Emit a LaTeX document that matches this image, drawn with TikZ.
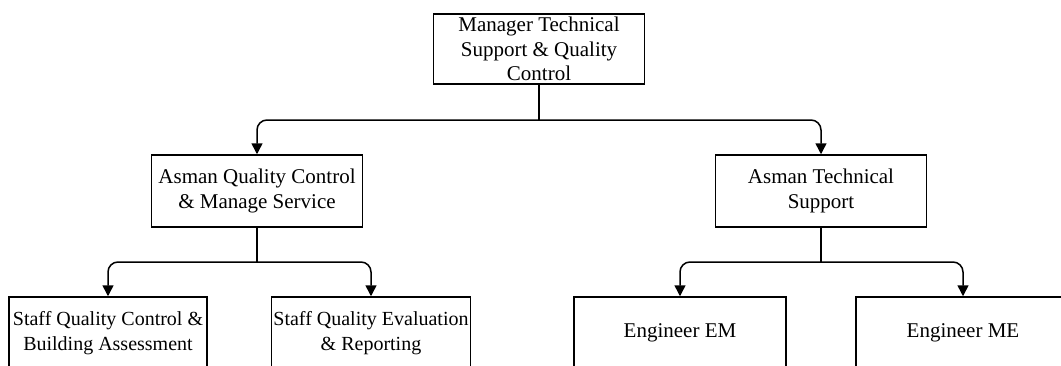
\documentclass[tikz,border=0pt]{standalone}
\usepackage{fontspec}
\setmainfont{Liberation Serif}
\usetikzlibrary{arrows.meta}
\tikzset{
    orgbox/.style={draw, line width=1.5pt, align=center, inner sep=2pt,
        minimum height=72pt, font=\fontsize{21}{24.5}\selectfont},
    staffbox/.style={orgbox, minimum width=198pt, font=\fontsize{20}{24.5}\selectfont},
    link/.style={line width=1.5pt, rounded corners=10pt},
    arr/.style={link, -{Triangle[length=11pt,width=11pt]}}
}

\begin{document}
\begin{tikzpicture}[x=1pt, y=-1pt]

    % Fix the visible area
    \clip (0,0) rectangle (1061,365);
    \fill[white] (0,0) rectangle (1061,365);

    % Define the levels
    \def\topy{49}
    \def\midy{191}
    \def\lowy{333}

    % Draw the boxes
    \node[orgbox, minimum width=211pt, minimum height=70pt] (mgr) at (539,\topy)
        {Manager Technical\\Support \& Quality\\Control};
    \node[orgbox, minimum width=211pt] (qc) at (257,\midy)
        {Asman Quality Control\\\& Manage Service};
    \node[orgbox, minimum width=211pt] (ts) at (821,\midy)
        {Asman Technical\\Support};
    \node[staffbox] (sqc) at (108,\lowy)
        {Staff Quality Control \&\\Building Assessment};
    \node[staffbox] (sqe) at (371,\lowy)
        {Staff Quality Evaluation\\\& Reporting};
    \node[orgbox, minimum width=212pt] (eem) at (680,\lowy)
        {Engineer EM};
    \node[orgbox, minimum width=214pt] (eme) at (963,\lowy)
        {Engineer ME};

    % Junction points
    \coordinate (j1) at (mgr.south |- 0,120);
    \coordinate (j2) at (qc.south |- 0,262);
    \coordinate (j3) at (ts.south |- 0,262);

    % Draw the connectors
    \draw[link] (mgr.south) -- (j1);
    \draw[arr] (j1) -| (qc.north);
    \draw[arr] (j1) -| (ts.north);

    \draw[link] (qc.south) -- (j2);
    \draw[arr] (j2) -| (sqc.north);
    \draw[arr] (j2) -| (sqe.north);

    \draw[link] (ts.south) -- (j3);
    \draw[arr] (j3) -| (eem.north);
    \draw[arr] (j3) -| (eme.north);

\end{tikzpicture}
\end{document}
